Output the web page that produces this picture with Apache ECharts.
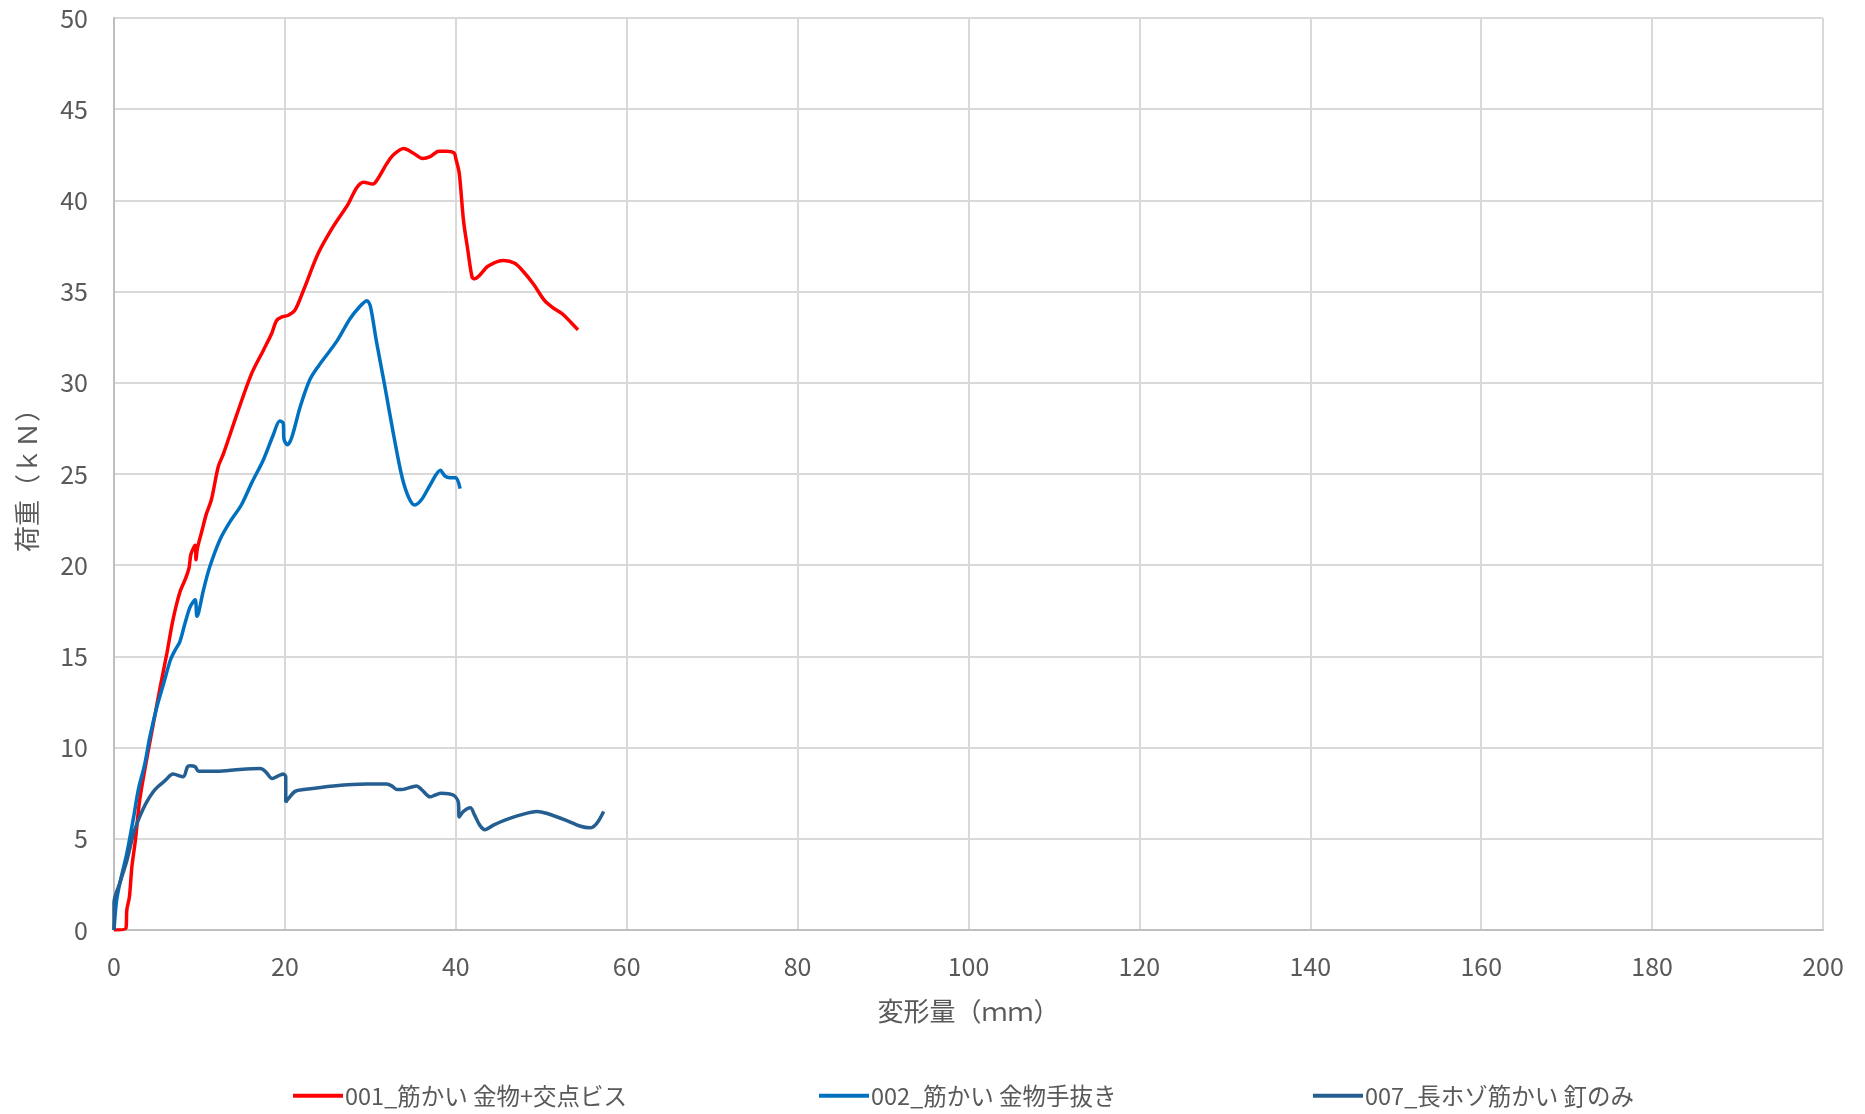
<!DOCTYPE html>
<html>
<head>
<meta charset="utf-8">
<script src="https://cdn.jsdelivr.net/npm/echarts@6/dist/echarts.min.js"></script>
<style>
html,body{margin:0;padding:0;background:#fff;}
#chart{width:1865px;height:1114px;}
</style>
</head>
<body>
<div id="chart"></div>
<script>
const seriesNames = ['001_筋かい 金物+交点ビス', '002_筋かい 金物手抜き', '007_長ホゾ筋かい 釘のみ'];

const x001 = [0,1.4,1.5,1.8,2.1,2.5,3.0,3.8,4.6,5.4,6.2,6.9,7.7,8.4,8.8,9.0,9.5,9.6,9.75,10.3,10.8,11.4,12.2,12.8,14.4,16.1,17.5,18.45,19.0,19.6,20.4,21.2,22.2,23.9,25.7,27.4,28.4,29.2,30.3,30.9,31.9,32.7,33.9,35.0,36.1,37.0,38.0,38.9,39.8,40.0,40.4,40.9,41.4,41.9,42.2,42.8,43.8,45.6,46.9,47.9,49.1,50.4,51.4,52.4,53.4,54.3];
const y001 = [0,0.1,1.1,1.8,3.5,4.9,7.1,9.3,11.3,13.3,15.2,17.0,18.5,19.3,19.9,20.6,21.1,20.3,20.9,21.9,22.8,23.6,25.4,26.1,28.3,30.5,31.8,32.7,33.4,33.6,33.7,34.0,35.1,37.1,38.6,39.8,40.7,41.0,40.9,41.2,42.0,42.5,42.85,42.6,42.3,42.4,42.7,42.7,42.6,42.3,41.5,38.9,37.3,35.8,35.7,35.9,36.4,36.7,36.55,36.1,35.4,34.5,34.1,33.8,33.35,32.9];

const x002 = [0,0.3,0.7,1.5,2.3,2.85,3.6,4.2,5.0,5.8,6.6,7.1,7.7,8.3,8.9,9.5,9.7,9.9,10.45,11.2,12.4,13.6,14.9,16.1,17.5,18.6,19.4,19.8,19.9,20.3,20.8,21.8,22.9,23.9,26.1,27.6,28.8,29.6,30.0,30.7,31.7,32.7,33.7,34.5,35.2,36.0,37.0,38.2,38.7,39.3,40.0,40.5];
const y002 = [0,1.6,2.6,4.2,6.2,7.7,9.1,10.6,12.2,13.5,14.8,15.3,15.8,16.8,17.7,18.1,17.2,17.4,18.6,19.9,21.4,22.4,23.3,24.5,25.8,27.1,27.9,27.8,26.9,26.6,27.0,28.7,30.15,30.9,32.3,33.5,34.2,34.5,34.2,32.3,29.8,27.2,24.85,23.7,23.3,23.6,24.4,25.2,24.9,24.8,24.8,24.2];

const x007 = [0,0,0.7,1.5,2.3,3.0,3.8,4.8,6.0,6.9,8.1,8.6,8.9,9.5,9.9,12.0,14.7,17.1,17.7,18.5,19.0,19.8,20.1,20.1,20.4,21.2,22.2,25.7,29.6,31.9,32.5,33.1,33.7,35.4,36.0,37.0,37.6,38.3,39.7,40.3,40.4,40.9,41.7,42.2,42.8,43.4,44.4,45.6,47.5,49.5,50.6,53.0,54.5,55.7,56.5,57.3];
const y007 = [0,1.5,2.6,3.8,5.3,6.2,7.0,7.7,8.2,8.55,8.4,8.95,9.0,8.95,8.7,8.7,8.8,8.85,8.7,8.3,8.4,8.55,8.4,7.0,7.2,7.6,7.7,7.9,8.0,8.0,7.9,7.7,7.7,7.9,7.7,7.3,7.4,7.5,7.4,7.0,6.2,6.5,6.7,6.3,5.75,5.5,5.75,6.0,6.3,6.5,6.4,6.0,5.7,5.6,5.85,6.5];

const xTickMin = 0, xTickMax = 200, xTickStep = 20;
const yTickMin = 0, yTickMax = 50, yTickStep = 5;

function zip(xs, ys){ return xs.map((v,i)=>[v, ys[i]]); }

const FONT = '"Noto Sans CJK JP", "Noto Sans", sans-serif';
const TXT = '#595959';
const colors = ['#FF0000', '#0070C0', '#255E91'];

const chart = echarts.init(document.getElementById('chart'), null, {renderer:'canvas'});

function mkLegend(i, left){
  return {
    data: [seriesNames[i]],
    left: left, top: 1079,
    icon: 'rect', itemWidth: 50, itemHeight: 4, itemGap: 0,
    textStyle: {color: TXT, fontSize: 23.5, fontFamily: FONT, padding:[0,0,0,-3]},
    selectedMode: false
  };
}

chart.setOption({
  animation: false,
  backgroundColor: '#fff',
  color: colors,
  grid: {left: 114, right: 42, top: 18, bottom: 184, containLabel: false},
  legend: [mkLegend(0, 288), mkLegend(1, 814), mkLegend(2, 1308)],
  xAxis: {
    type: 'value', min: xTickMin, max: xTickMax, interval: xTickStep,
    name: '変形量（ｍｍ）', nameLocation: 'middle', nameGap: 68,
    nameTextStyle: {color: TXT, fontSize: 26, fontFamily: FONT},
    axisLine: {show: true, lineStyle: {color: '#BFBFBF', width: 2}},
    axisTick: {show: false},
    axisLabel: {color: TXT, fontSize: 25, fontFamily: FONT, margin: 24},
    splitLine: {show: true, lineStyle: {color: '#D9D9D9', width: 2}}
  },
  yAxis: {
    type: 'value', min: yTickMin, max: yTickMax, interval: yTickStep,
    name: '荷重（ｋＮ）', nameLocation: 'middle', nameGap: 74, nameRotate: 90,
    nameTextStyle: {color: TXT, fontSize: 26, fontFamily: FONT},
    axisLine: {show: true, lineStyle: {color: '#BFBFBF', width: 2}},
    axisTick: {show: false},
    axisLabel: {color: TXT, fontSize: 25, fontFamily: FONT, margin: 26},
    splitLine: {show: true, lineStyle: {color: '#D9D9D9', width: 2}}
  },
  series: [
    {name: seriesNames[0], type: 'line', data: zip(x001, y001), showSymbol: false, smooth: 0.3, lineStyle: {width: 3.5, color: colors[0]}, itemStyle:{color: colors[0]}},
    {name: seriesNames[1], type: 'line', data: zip(x002, y002), showSymbol: false, smooth: 0.3, lineStyle: {width: 3.5, color: colors[1]}, itemStyle:{color: colors[1]}},
    {name: seriesNames[2], type: 'line', data: zip(x007, y007), showSymbol: false, smooth: 0.3, lineStyle: {width: 3.5, color: colors[2]}, itemStyle:{color: colors[2]}}
  ]
});
</script>
</body>
</html>
